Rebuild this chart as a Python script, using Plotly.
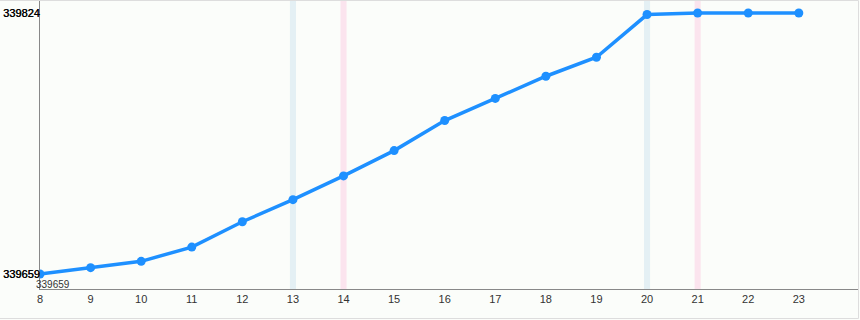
import plotly.graph_objects as go

hours = [8, 9, 10, 11, 12, 13, 14, 15, 16, 17, 18, 19, 20, 21, 22, 23]
values = [339659, 339663, 339667, 339676, 339692, 339706, 339721, 339737,
          339756, 339770, 339784, 339796, 339823, 339824, 339824, 339824]
y_ticks = [339659, 339824]
blue_marks = [13, 20]
pink_marks = [14, 21]
min_label = 339659

fig = go.Figure()
fig.add_trace(go.Scatter(
    x=hours, y=values, mode="lines+markers",
    line=dict(color="#1e90ff", width=3.5),
    marker=dict(color="#1e90ff", size=9),
    hoverinfo="x+y", showlegend=False,
))

shapes = []
for h in blue_marks:
    shapes.append(dict(type="rect", xref="x", yref="paper", x0=h - 0.06, x1=h + 0.06,
                       y0=0, y1=1, fillcolor="#e4f0f4", line=dict(width=0), layer="below"))
for h in pink_marks:
    shapes.append(dict(type="rect", xref="x", yref="paper", x0=h - 0.06, x1=h + 0.06,
                       y0=0, y1=1, fillcolor="#fbe4ee", line=dict(width=0), layer="below"))
# outer border
W, H = 818, 289
shapes.append(dict(type="rect", xref="paper", yref="paper",
                   x0=-40.5 / W, x1=1 + 0.5 / W, y0=-29.5 / H, y1=1 - 0.5 / H,
                   line=dict(color="#dddddd", width=1), fillcolor="rgba(0,0,0,0)", layer="above"))

fig.update_layout(
    width=860, height=320,
    margin=dict(l=40, r=2, t=0, b=31),
    paper_bgcolor="#fbfdfa", plot_bgcolor="#fbfdfa",
    shapes=shapes,
    font=dict(family="Liberation Sans, Arial, sans-serif"),
    xaxis=dict(range=[8, 24.17], tickvals=hours, ticktext=[str(h) for h in hours],
               showgrid=False, zeroline=False, showline=True, linecolor="#888888",
               linewidth=1, ticks="", tickfont=dict(size=11, color="#333333")),
    yaxis=dict(range=[339649.5, 339832.2], tickvals=y_ticks,
               ticktext=[str(v) for v in y_ticks],
               showgrid=False, zeroline=False, showline=True, linecolor="#888888",
               linewidth=1, ticks="", ticklen=0, ticklabelstandoff=-3,
               tickfont=dict(size=11, color="#000000", shadow="0.35px 0 0 #000")),
    annotations=[dict(x=8, y=min_label, xref="x", yref="y",
                      text=str(min_label), showarrow=False, xanchor="left", yanchor="top",
                      xshift=-6, yshift=-3, font=dict(size=10, color="#333333"))],
)

fig.write_html("out.html")
